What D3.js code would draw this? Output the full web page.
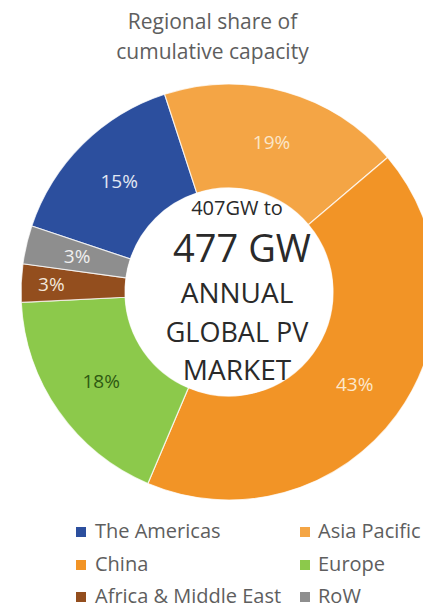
<!DOCTYPE html>
<html>
<head>
<meta charset="utf-8">
<script src="https://cdn.jsdelivr.net/npm/d3@7/dist/d3.min.js"></script>
<style>
  html, body { margin: 0; padding: 0; background: #fff; overflow: hidden; }
  svg { display: block; }
</style>
</head>
<body>
<svg id="chart" width="423" height="609"></svg>
<script>
// ---- data ----
const regions = ["The Americas", "Asia Pacific", "China", "Europe", "Africa & Middle East", "RoW"];
const shares  = [15, 19, 43, 18, 3, 3];
const colors  = ["#2C4F9E", "#F4A545", "#F29426", "#8CC94B", "#934E1E", "#8E8E8E"];
const labelColors = ["#E3E8F3", "#FBE6C8", "#FCE8CC", "#2F5A12", "#F2E6DA", "#F0F0F0"];
const titleLines  = ["Regional share of", "cumulative capacity"];
const centerLines = ["407GW to", "477 GW", "ANNUAL", "GLOBAL PV", "MARKET"];

// ---- layout ----
const W = 423, H = 609;
const cx = 229, cy = 292, rOuter = 208, rInner = 104;
const startDeg = -71.5;
const font = "'Open Sans', 'DejaVu Sans', sans-serif";

const svg = d3.select("#chart");

// title
svg.append("g").selectAll("text").data(titleLines).join("text")
  .attr("x", W / 2 + 1)
  .attr("y", (d, i) => 29 + i * 30)
  .attr("text-anchor", "middle")
  .attr("font-family", font)
  .attr("font-size", 21)
  .attr("fill", "#5E5E5E")
  .text(d => d);

const rows = regions.map((r, i) => ({ region: r, value: shares[i], i }));

const pie = d3.pie()
  .value(d => d.value)
  .sort(null)
  .startAngle(startDeg * Math.PI / 180)
  .endAngle(startDeg * Math.PI / 180 + 2 * Math.PI);

const arcs = pie(rows);
const arc = d3.arc().innerRadius(rInner).outerRadius(rOuter);

const g = svg.append("g").attr("transform", `translate(${cx},${cy})`);

g.selectAll("path").data(arcs).join("path")
  .attr("d", arc)
  .attr("fill", d => colors[d.data.i])
  .attr("stroke", "#FFFFFF")
  .attr("stroke-opacity", 0.75)
  .attr("stroke-width", 1.2);

// centre hole (white)
g.append("circle").attr("r", rInner).attr("fill", "#FFFFFF");

// data labels (small adjacent slices pushed outward to avoid overlap)
const labelArc = d3.arc().innerRadius(rInner).outerRadius(rOuter);
g.selectAll("text.lbl").data(arcs).join("text")
  .attr("class", "lbl")
  .attr("transform", (d, k) => {
    const c = labelArc.centroid(d);
    const next = arcs[(k + 1) % arcs.length];
    let scale = 1;
    if (d.data.value < 5 && next.data.value < 5) scale = 1.14;
    return `translate(${c[0] * scale},${c[1] * scale})`;
  })
  .attr("text-anchor", "middle")
  .attr("dy", "0.36em")
  .attr("font-family", font)
  .attr("font-size", 19)
  .attr("fill", d => labelColors[d.data.i])
  .text(d => d.data.value + "%");

// centre text
const centerX = 237;
const centerBase = [215, 262, 303, 342, 380];
const centerSize = [20, 38, 28, 27, 28];
svg.append("g").selectAll("text").data(centerLines).join("text")
  .attr("x", (d, i) => i === 1 ? centerX + 5 : centerX)
  .attr("y", (d, i) => centerBase[i])
  .attr("text-anchor", "middle")
  .attr("font-family", font)
  .attr("font-size", (d, i) => centerSize[i])
  .attr("fill", "#2A2A2A")
  .text(d => d);

// legend: 2 columns x 3 rows
const legend = svg.append("g");
const colX = [76, 300];
const rowY = [538, 571, 603];
const items = legend.selectAll("g").data(rows).join("g")
  .attr("transform", d => `translate(${colX[d.i % 2]},${rowY[Math.floor(d.i / 2)]})`);
items.append("rect")
  .attr("x", 0).attr("y", -11)
  .attr("width", 10).attr("height", 10)
  .attr("fill", d => colors[d.i]);
items.append("text")
  .attr("x", d => d.i % 2 ? 18 : 19).attr("y", 0)
  .attr("font-family", font)
  .attr("font-size", 20)
  .attr("fill", "#5E5E5E")
  .text(d => d.region);
</script>
</body>
</html>
